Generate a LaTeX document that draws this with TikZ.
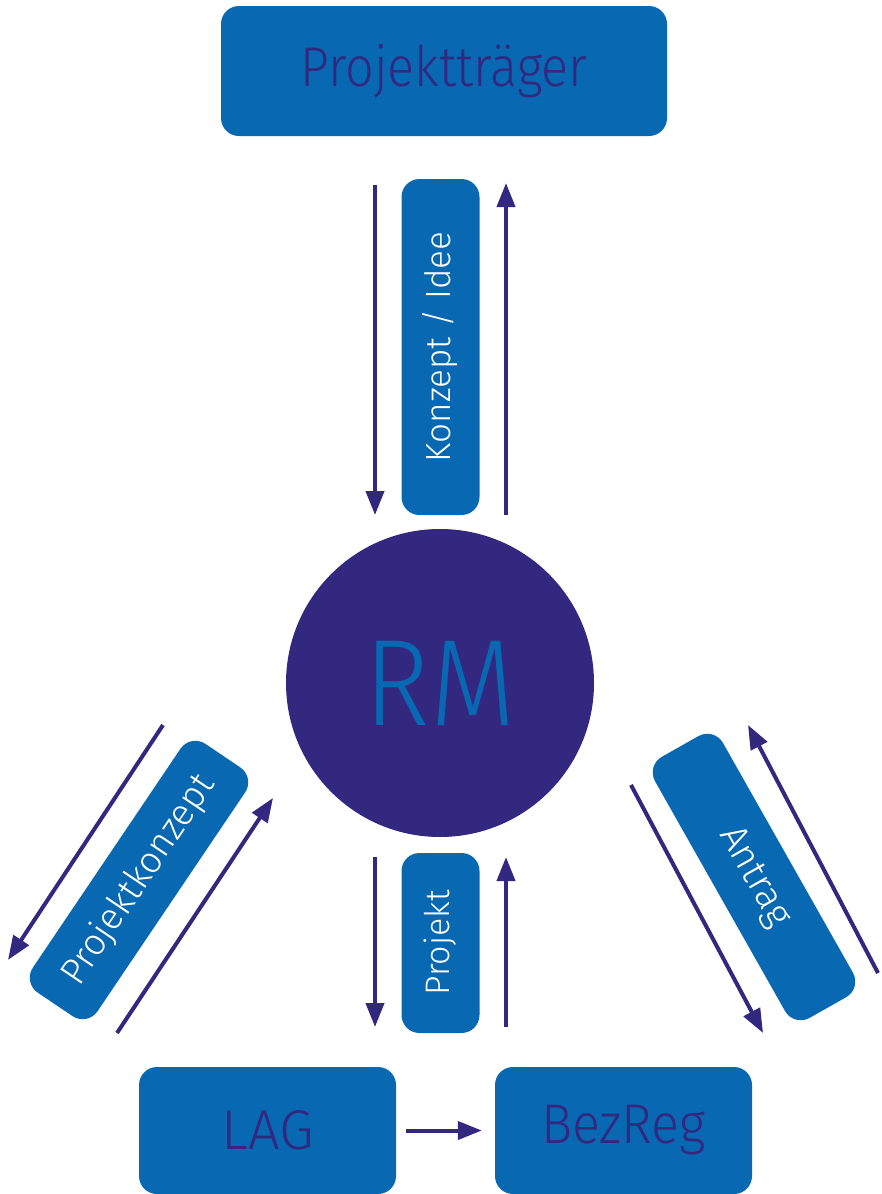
\documentclass[tikz,border=0pt]{standalone}
\usepackage{fontspec}
\setmainfont{Fira Sans Light}
\newfontfamily\titlefont[FakeStretch=0.9]{Fira Sans Light}
\newfontfamily\rmfont[FakeStretch=0.9]{Fira Sans Light}
\newfontfamily\regfont[FakeStretch=0.93]{Fira Sans Light}
\usetikzlibrary{arrows.meta}
\definecolor{boxblue}{HTML}{0869B2}
\definecolor{deeppurple}{HTML}{32287F}
\begin{document}
\begin{tikzpicture}[x=1pt,y=-1pt,
  bigbox/.style={fill=boxblue, rounded corners=18pt, inner sep=0pt,
    text=deeppurple, font=\fontsize{56}{56}\selectfont},
  tagbox/.style={fill=boxblue, rounded corners=18pt, inner sep=0pt,
    text=white, minimum height=78pt},
  flow/.style={draw=deeppurple, line width=4pt,
    -{Triangle[length=24pt,width=18pt]}}]
\useasboundingbox (0,0) rectangle (882,1194);

% main actors
\node[bigbox, minimum width=446pt, minimum height=130pt,
  font=\titlefont\fontsize{56}{56}\selectfont] (pt) at (444,71) {Projektträger};
\node[circle, fill=deeppurple, minimum size=308pt, inner sep=0pt,
  text=boxblue, font=\rmfont\fontsize{123}{123}\selectfont] (rm) at (440,683) {RM};
\node[bigbox, minimum width=257pt, minimum height=127pt] (lag) at (267.5,1130.5) {LAG};
\node[bigbox, minimum width=257pt, minimum height=127pt,
  font=\regfont\fontsize{56}{56}\selectfont] (bez) at (623.5,1130.5) {BezReg};

% exchanged documents
\node[tagbox, rotate=90, minimum width=336pt, font=\fontsize{35}{35}\selectfont] (idee) at (440.5,347) {Konzept / Idee};
\node[tagbox, rotate=90, minimum width=180pt, font=\fontsize{34}{34}\selectfont] (proj) at (440.5,943) {Projekt};
\node[tagbox, rotate=56, minimum width=300pt, font=\fontsize{37}{37}\selectfont] (pk) at (139,880) {Projektkonzept};
\node[tagbox, rotate=-60.5, minimum width=300pt, font=\fontsize{38}{38}\selectfont] (antrag) at (754,877) {Antrag};

% arrow end points
\coordinate (a1s) at (375,185);  \coordinate (a1e) at (375,515);
\coordinate (a2s) at (506,515);  \coordinate (a2e) at (506,183);
\coordinate (b1s) at (375,857);  \coordinate (b1e) at (375,1027);
\coordinate (b2s) at (506,1027); \coordinate (b2e) at (506,857);
\coordinate (c1s) at (163,725);  \coordinate (c1e) at (8,960);
\coordinate (c2s) at (117,1033); \coordinate (c2e) at (273,798);
\coordinate (d1s) at (878,973);  \coordinate (d1e) at (748,725);
\coordinate (d2s) at (631,785);  \coordinate (d2e) at (763,1033);

\draw[flow] (a1s) -- (a1e);
\draw[flow] (a2s) -- (a2e);
\draw[flow] (b1s) -- (b1e);
\draw[flow] (b2s) -- (b2e);
\draw[flow] (c1s) -- (c1e);
\draw[flow] (c2s) -- (c2e);
\draw[flow] (d1s) -- (d1e);
\draw[flow] (d2s) -- (d2e);
\draw[flow] ([xshift=10pt]lag.east) -- ([xshift=-13pt]bez.west);
\end{tikzpicture}
\end{document}
